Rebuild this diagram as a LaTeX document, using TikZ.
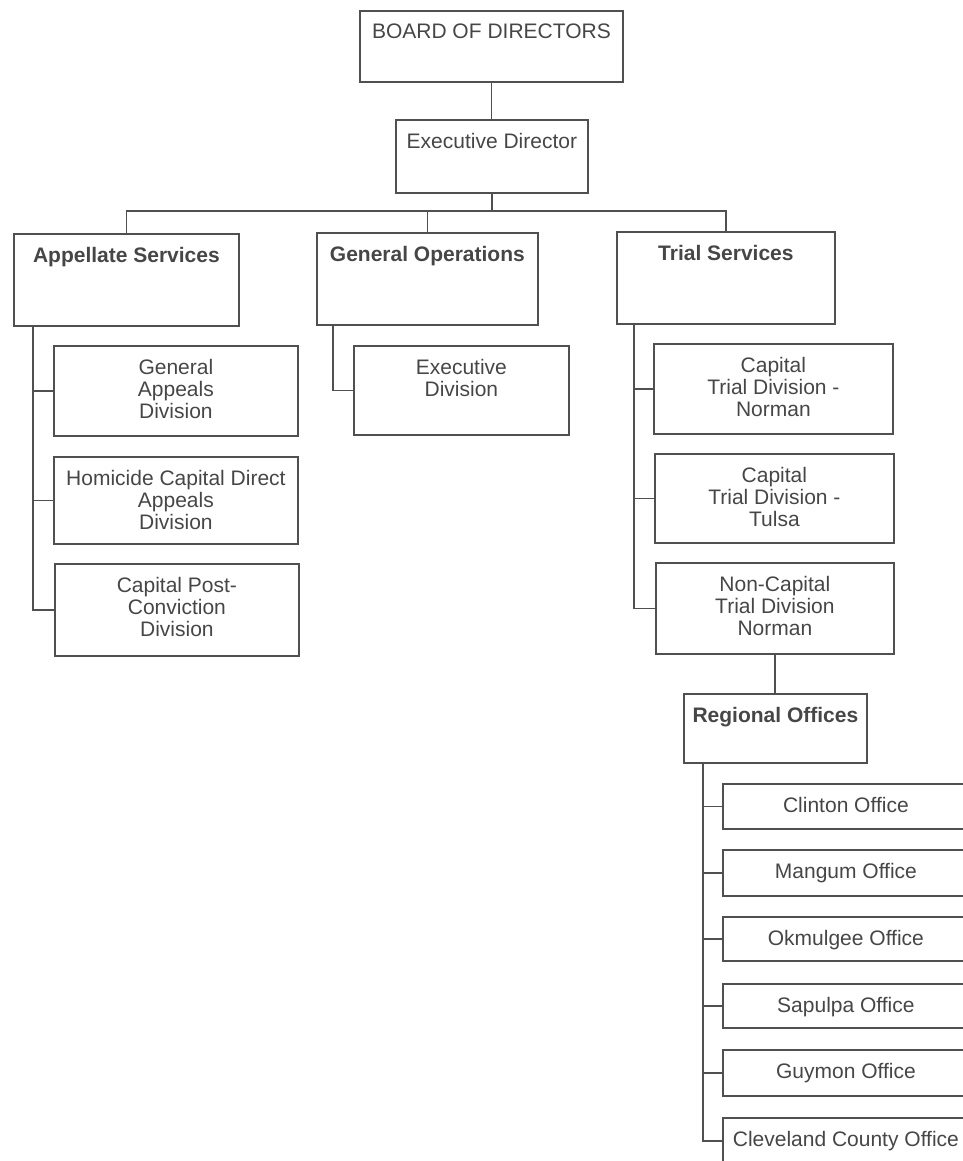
\documentclass[tikz,border=0pt]{standalone}
\usepackage{fontspec}
\setmainfont{Liberation Sans}
\definecolor{lc}{HTML}{505050}
\definecolor{tc}{HTML}{464646}
\begin{document}
\begin{tikzpicture}[x=1pt,y=-1pt,
  box/.style={draw=lc, line width=1.8pt, anchor=north west, inner sep=0pt},
  txt/.style={text=tc, font=\fontsize{21}{22}\selectfont, align=center, anchor=north, inner sep=0pt},
  btxt/.style={txt, font=\fontsize{21}{22}\selectfont\bfseries},
  conn/.style={draw=lc, line width=1.8pt}]
\useasboundingbox (0,0) rectangle (962,1161);

% top level
\node[box, minimum width=263pt, minimum height=71pt] (board) at (359,10) {};
\node[txt] (boardt) at ([yshift=-14pt]board.north) {BOARD OF DIRECTORS};
\node[box, minimum width=192pt, minimum height=73pt] (exec) at (395,119) {};
\node[txt] (exect) at ([yshift=-14pt]exec.north) {Executive Director};

% second level
\node[box, minimum width=225pt, minimum height=92pt] (app) at (13,233) {};
\node[btxt] (appt) at ([yshift=-14pt]app.north) {Appellate Services};
\node[box, minimum width=221pt, minimum height=92pt] (gen) at (316,232) {};
\node[btxt] (gent) at ([yshift=-14pt]gen.north) {General Operations};
\node[box, minimum width=218pt, minimum height=92pt] (trial) at (616,231) {};
\node[btxt] (trialt) at ([yshift=-14pt]trial.north) {Trial Services};

% appellate divisions
\node[box, minimum width=244pt, minimum height=90pt] (ga) at (53,345) {};
\node[txt] (gat) at ([yshift=-14pt]ga.north) {General\\Appeals\\Division};
\node[box, minimum width=244pt, minimum height=87pt] (hc) at (53,456) {};
\node[txt] (hct) at ([yshift=-14pt]hc.north) {Homicide Capital Direct\\Appeals\\Division};
\node[box, minimum width=244pt, minimum height=92pt] (pc) at (54,563) {};
\node[txt] (pct) at ([yshift=-14pt]pc.north) {Capital Post-\\Conviction\\Division};

% general operations
\node[box, minimum width=215pt, minimum height=89pt] (ed) at (353,345) {};
\node[txt] (edt) at ([yshift=-14pt]ed.north) {Executive\\Division};

% trial divisions
\node[box, minimum width=239pt, minimum height=90pt] (ctn) at (653,343) {};
\node[txt] (ctnt) at ([yshift=-14pt]ctn.north) {Capital\\Trial Division -\\Norman};
\node[box, minimum width=239pt, minimum height=89pt] (ctt) at (654,453) {};
\node[txt] (cttt) at ([yshift=-14pt]ctt.north) {Capital\\Trial Division -\\Tulsa};
\node[box, minimum width=238pt, minimum height=91pt] (nct) at (655,562) {};
\node[txt] (nctt) at ([yshift=-14pt]nct.north) {Non-Capital\\Trial Division\\Norman};

% regional offices
\node[box, minimum width=183pt, minimum height=69pt] (reg) at (683,693) {};
\node[btxt] (regt) at ([yshift=-14pt]reg.north) {Regional Offices};
\node[box, minimum width=246pt, minimum height=45pt] (cli) at (722,783) {};
\node[txt] (clit) at ([yshift=-14pt]cli.north) {Clinton Office};
\node[box, minimum width=246pt, minimum height=46pt] (man) at (722,849) {};
\node[txt] (mant) at ([yshift=-14pt]man.north) {Mangum Office};
\node[box, minimum width=246pt, minimum height=44pt] (okm) at (722,916) {};
\node[txt] (okmt) at ([yshift=-14pt]okm.north) {Okmulgee Office};
\node[box, minimum width=246pt, minimum height=44pt] (sap) at (722,983) {};
\node[txt] (sapt) at ([yshift=-14pt]sap.north) {Sapulpa Office};
\node[box, minimum width=246pt, minimum height=46pt] (guy) at (722,1049) {};
\node[txt] (guyt) at ([yshift=-14pt]guy.north) {Guymon Office};
\node[box, minimum width=246pt, minimum height=46pt] (cle) at (722,1117) {};
\node[txt] (clet) at ([yshift=-14pt]cle.north) {Cleveland County Office};

% connectors
\coordinate (j) at (491,211);
\draw[conn] (board.south) -- (board.south |- exec.north);
\draw[conn] (exec.south) -- (exec.south |- j);
\draw[conn] (app.north) |- (j) -| (trial.north);
\draw[conn] (gen.north) -- (gen.north |- j);

\coordinate (at) at ([xshift=20pt]app.south west);
\draw[conn] (at) |- (ga.west);
\draw[conn] (at) |- (hc.west);
\draw[conn] (at) |- (pc.west);

\coordinate (gt) at ([xshift=17pt]gen.south west);
\draw[conn] (gt) |- (ed.west);

\coordinate (tt) at ([xshift=18pt]trial.south west);
\draw[conn] (tt) |- (ctn.west);
\draw[conn] (tt) |- (ctt.west);
\draw[conn] (tt) |- (nct.west);

\draw[conn] (nct.south) -- (nct.south |- reg.north);

\coordinate (rt) at ([xshift=20pt]reg.south west);
\draw[conn] (rt) |- (cli.west);
\draw[conn] (rt) |- (man.west);
\draw[conn] (rt) |- (okm.west);
\draw[conn] (rt) |- (sap.west);
\draw[conn] (rt) |- (guy.west);
\draw[conn] (rt) |- (cle.west);
\end{tikzpicture}
\end{document}
